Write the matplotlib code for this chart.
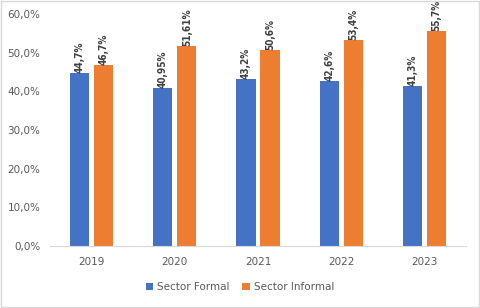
import matplotlib
matplotlib.use("Agg")
import matplotlib.pyplot as plt
import numpy as np
from matplotlib.ticker import FuncFormatter
from matplotlib.patches import Rectangle

anos = ["2019", "2020", "2021", "2022", "2023"]
formal = [44.7, 40.95, 43.2, 42.6, 41.3]
informal = [46.7, 51.61, 50.6, 53.4, 55.7]
lbl_formal = ["44,7%", "40,95%", "43,2%", "42,6%", "41,3%"]
lbl_informal = ["46,7%", "51,61%", "50,6%", "53,4%", "55,7%"]

AZUL = "#4472C4"
NARANJA = "#ED7D31"
GRIS = "#595959"

fig = plt.figure(figsize=(4.8, 3.08), dpi=100)
ax = fig.add_axes([50 / 480, 1 - 246 / 308, 416 / 480, 232 / 308])

x = np.arange(len(anos))
w = 0.23
b1 = ax.bar(x - 0.145, formal, w, color=AZUL, label="Sector Formal")
b2 = ax.bar(x + 0.145, informal, w, color=NARANJA, label="Sector Informal")

for barras, etiquetas in ((b1, lbl_formal), (b2, lbl_informal)):
    for b, t in zip(barras, etiquetas):
        ax.annotate(t, (b.get_x() + b.get_width() / 2, b.get_height()),
                    xytext=(0, 0), textcoords="offset points",
                    rotation=90, ha="center", va="bottom",
                    fontsize=7.2, fontweight="bold", color="#404040",
                    fontstretch="condensed", annotation_clip=False)

ax.set_xlim(-0.5, len(anos) - 0.5)
ax.set_ylim(0, 60)
ax.set_yticks(range(0, 61, 10))
ax.yaxis.set_major_formatter(FuncFormatter(lambda v, p: f"{v:.1f}%".replace(".", ",")))
ax.set_xticks(x)
ax.set_xticklabels(anos)
ax.tick_params(axis="both", length=0, colors=GRIS, labelsize=7.5)
ax.tick_params(axis="x", pad=8)
ax.tick_params(axis="y", pad=7)
for s in ("top", "right", "left"):
    ax.spines[s].set_visible(False)
ax.spines["bottom"].set_color("#D9D9D9")

fig.legend(loc="center", bbox_to_anchor=(0.5, 1 - 287 / 308), ncol=2,
           frameon=False, fontsize=7.5, labelcolor=GRIS,
           handlelength=0.7, handleheight=0.7, columnspacing=1.2, handletextpad=0.4)

fig.patches.append(Rectangle((0.002, 0.003), 0.995, 0.993, transform=fig.transFigure,
                             fill=False, edgecolor="#D9D9D9", linewidth=1))

fig.savefig("out.png", dpi=100)
